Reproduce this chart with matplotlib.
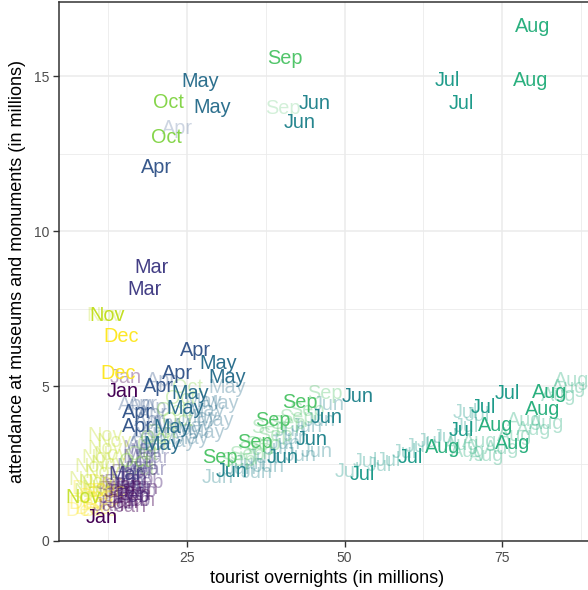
import matplotlib
matplotlib.use("Agg")
import matplotlib.pyplot as plt
import numpy as np

plt.rcParams['font.family'] = ['Liberation Sans', 'DejaVu Sans']

months = ['Jan', 'Feb', 'Mar', 'Apr', 'May', 'Jun',
          'Jul', 'Aug', 'Sep', 'Oct', 'Nov', 'Dec']

# viridis, one shade per month
month_colors = ['#440154', '#482173', '#433E85', '#38598C', '#2D708E', '#25858E',
                '#1E9B8A', '#2BB07F', '#51C56A', '#85D54A', '#C2DF23', '#FDE725']

# tourist overnights (x), attendance (y), opacity per point -- all in millions
jan_x = [12.6, 13.5, 14.3, 15.4, 16.2, 13.0, 14.8, 16.8, 17.5, 18.0, 16.0, 15.2, 11.5, 14.8]
jan_y = [1.15, 1.40, 1.60, 1.80, 2.00, 1.85, 1.25, 1.50, 1.30, 1.70, 1.10, 5.26, 0.77, 4.81]
jan_a = [0.4, 0.45, 0.5, 0.45, 0.4, 0.35, 0.55, 0.45, 0.4, 0.4, 0.45, 0.35, 1, 1]

feb_x = [14.0, 15.0, 16.0, 17.0, 15.5, 17.5, 14.5, 13.5, 18.5, 17.8, 16.5, 16.3]
feb_y = [1.20, 1.55, 1.75, 2.00, 2.20, 1.60, 1.90, 1.65, 1.90, 2.30, 1.30, 1.42]
feb_a = [0.45, 0.45, 0.4, 0.4, 0.35, 0.4, 0.4, 0.35, 0.4, 0.35, 0.45, 0.8]

mar_x = [16.5, 17.5, 18.5, 15.8, 17.0, 18.0, 16.8, 19.0, 19.5, 17.5, 15.2, 19.3, 18.2]
mar_y = [2.40, 2.70, 2.90, 1.90, 2.20, 2.50, 1.70, 2.30, 2.70, 3.00, 2.13, 8.81, 8.13]
mar_a = [0.4, 0.4, 0.35, 0.4, 0.45, 0.35, 0.35, 0.4, 0.35, 0.35, 0.9, 1, 1]

apr_x = [23.4, 21.0, 18.0, 19.5, 20.5, 19.0, 21.5, 18.5, 20.0, 16.5, 19.5, 18.0,
         20.1, 26.3, 23.4, 20.4, 17.1, 17.1]
apr_y = [13.3, 5.19, 4.40, 4.10, 4.30, 3.90, 3.80, 3.40, 3.50, 4.40, 3.00, 3.10,
         12.06, 6.16, 5.42, 5.00, 4.16, 3.68]
apr_a = [0.25, 0.35, 0.35, 0.35, 0.35, 0.4, 0.35, 0.35, 0.35, 0.35, 0.35, 0.35,
         1, 1, 1, 1, 1, 1]

may_x = [31.3, 30.2, 28.0, 27.0, 29.5, 26.0, 24.5, 28.0, 23.5, 25.5, 27.5,
         27.1, 29.0, 29.9, 31.3, 25.5, 24.7, 22.6, 21.0]
may_y = [4.94, 4.45, 4.20, 4.00, 3.90, 3.70, 3.60, 3.50, 3.20, 3.30, 4.50,
         14.84, 14.0, 5.74, 5.26, 4.77, 4.26, 3.65, 3.10]
may_a = [0.35] * 11 + [1] * 8

jun_x = [29.9, 35.0, 37.0, 39.5, 42.0, 44.0, 46.0, 38.0, 43.0, 36.0, 41.5, 45.5, 47.5,
         33.5, 40.5,
         45.3, 42.9, 52.1, 47.2, 44.8, 40.2, 32.1]
jun_y = [2.06, 2.50, 2.70, 3.00, 3.30, 3.70, 3.90, 2.40, 2.75, 2.20, 3.55, 2.90, 4.40,
         2.35, 3.15,
         14.1, 13.5, 4.65, 4.00, 3.26, 2.71, 2.23]
jun_a = [0.35] * 15 + [1] * 7

jul_x = [53.3, 55.5, 57.0, 59.5, 61.5, 63.5, 69.1, 69.4, 71.0, 66.0, 50.5,
         66.3, 68.6, 75.9, 72.1, 68.6, 60.4, 52.8]
jul_y = [2.55, 2.45, 2.60, 2.85, 3.05, 3.20, 4.16, 3.70, 4.05, 3.35, 2.25,
         14.87, 14.1, 4.77, 4.32, 3.58, 2.71, 2.13]
jul_a = [0.35] * 11 + [1] * 7

aug_x = [86.1, 84.0, 78.5, 80.0, 77.0, 75.0, 71.5, 69.5, 68.5, 72.5, 82.0, 85.5,
         79.8, 79.6, 82.5, 81.5, 73.9, 76.6, 65.5]
aug_y = [5.19, 4.70, 3.90, 3.60, 3.40, 3.00, 3.20, 2.90, 3.10, 2.75, 3.80, 4.95,
         16.6, 14.87, 4.80, 4.23, 3.74, 3.16, 3.03]
aug_a = [0.35] * 12 + [1] * 7

sep_x = [40.2, 46.9, 44.0, 41.0, 39.0, 37.0, 34.5, 33.0, 38.0, 36.0, 42.5,
         40.6, 42.9, 38.7, 35.8, 30.2]
sep_y = [13.97, 4.77, 4.20, 3.80, 3.40, 3.10, 2.80, 2.60, 3.65, 2.95, 4.00,
         15.58, 4.48, 3.90, 3.19, 2.71]
sep_a = [0.25] + [0.35] * 10 + [1] * 5

oct_x = [25.0, 24.0, 22.5, 23.5, 16.7, 18.0, 19.5, 17.5, 21.0, 20.0, 22.0, 21.7]
oct_y = [4.94, 4.60, 4.20, 3.90, 2.55, 2.80, 3.10, 2.30, 3.50, 3.30, 14.16, 13.03]
oct_a = [0.35, 0.35, 0.35, 0.35, 0.45, 0.35, 0.35, 0.35, 0.35, 0.35, 1, 1]

nov_x = [11.8, 12.0, 13.0, 12.5, 11.5, 10.5, 9.8, 11.0, 10.0, 13.5, 9.0, 11.0, 12.0,
         12.3, 8.5]
nov_y = [7.26, 3.00, 2.80, 2.50, 2.20, 1.90, 1.60, 1.70, 2.40, 3.20, 2.00, 2.70, 3.40,
         7.26, 1.39]
nov_a = [0.3, 0.35, 0.35, 0.35, 0.4, 0.4, 0.4, 0.35, 0.35, 0.35, 0.35, 0.35, 0.35,
         1, 0.9]

dec_x = [9.0, 10.5, 11.5, 12.5, 8.5, 10.0, 12.0, 9.5, 11.0, 14.5, 14.0]
dec_y = [1.20, 1.45, 1.35, 1.60, 1.00, 1.05, 1.90, 1.70, 1.00, 6.61, 5.42]
dec_a = [0.4, 0.45, 0.4, 0.45, 0.35, 0.35, 0.35, 0.35, 0.35, 1, 1]

month_x = [jan_x, feb_x, mar_x, apr_x, may_x, jun_x, jul_x, aug_x, sep_x, oct_x, nov_x, dec_x]
month_y = [jan_y, feb_y, mar_y, apr_y, may_y, jun_y, jul_y, aug_y, sep_y, oct_y, nov_y, dec_y]
month_a = [jan_a, feb_a, mar_a, apr_a, may_a, jun_a, jul_a, aug_a, sep_a, oct_a, nov_a, dec_a]

fig = plt.figure(figsize=(5.88, 5.90), dpi=100)
# panel runs slightly past the right edge of the figure
ax = fig.add_axes([59 / 588, 1 - 541 / 590, 537 / 588, 539 / 590])
ax.set_xlim(4.68, 89.9)
ax.set_ylim(0, 17.39)

# faded points first so the opaque ones sit on top
labels = []
for m, name in enumerate(months):
    for x, y, a in zip(month_x[m], month_y[m], month_a[m]):
        labels.append((a, x, y, name, month_colors[m]))
labels.sort(key=lambda t: t[0])
for a, x, y, name, col in labels:
    ax.text(x, y, name, color=col, alpha=a, fontsize=14.3,
            ha='center', va='center', clip_on=True)

ax.set_xticks([25, 50, 75])
ax.set_yticks([0, 5, 10, 15])
ax.set_xticks([12.5, 37.5, 62.5, 87.5], minor=True)
ax.set_yticks([2.5, 7.5, 12.5], minor=True)
ax.grid(True, which='major', color='#EBEBEB', linewidth=1.1)
ax.grid(True, which='minor', color='#EBEBEB', linewidth=0.6)
ax.set_axisbelow(True)
ax.tick_params(which='minor', length=0)
ax.tick_params(which='major', length=4, width=1, color='#333333',
               labelcolor='#4D4D4D', labelsize=10, pad=3)
for s in ax.spines.values():
    s.set_color('#333333')
    s.set_linewidth(1.1)

ax.set_xlabel('tourist overnights (in millions)', fontsize=13, labelpad=4)
ax.set_ylabel('attendance at museums and monuments (in millions)', fontsize=13, labelpad=6)

fig.savefig('out.png', dpi=100)
